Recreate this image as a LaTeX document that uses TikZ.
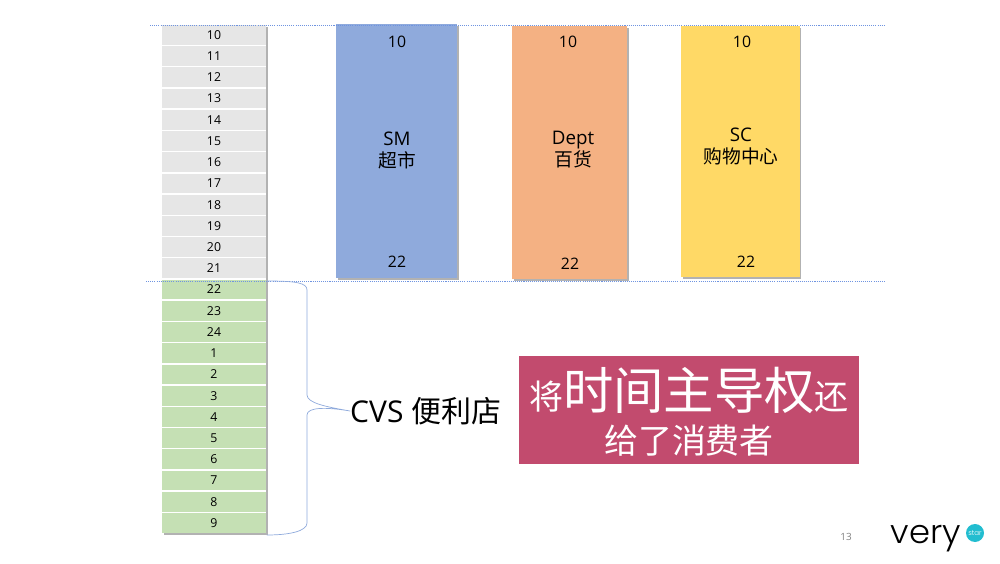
\documentclass[tikz,border=0pt]{standalone}
\usepackage{xcolor}
\usepackage{fontspec}
\setmainfont{Open Sans}
\newfontfamily\cjk{Noto Sans CJK SC}
\newfontfamily\logofont[UprightFont=* Light]{Poppins}
\usetikzlibrary{shadows}
\definecolor{guideblue}{HTML}{6F94E0}
\definecolor{braceblue}{HTML}{8FAADC}
\definecolor{cellgrey}{HTML}{E6E6E6}
\definecolor{cellgreen}{HTML}{C5E0B4}
\definecolor{barblue}{HTML}{8FAADC}
\definecolor{barorange}{HTML}{F4B183}
\definecolor{baryellow}{HTML}{FFD966}
\definecolor{boxpink}{HTML}{C24B6E}
\definecolor{logoteal}{HTML}{22BDD0}
\tikzset{
	softshadow/.style={drop shadow={shadow xshift=1.6pt,shadow yshift=-1.6pt,opacity=0.5,fill=black!60}},
	hourcell/.style={minimum width=3.12cm,minimum height=0.594cm,inner sep=0pt,font=\fontsize{10.5}{12}\selectfont,text height=7.5pt,text depth=0pt},
	greycell/.style={hourcell,fill=cellgrey},
	greencell/.style={hourcell,fill=cellgreen},
	bar/.style={inner sep=0pt,softshadow},
	barhour/.style={inner sep=0pt,font=\fontsize{13.5}{16}\selectfont},
	barname/.style={inner sep=0pt,align=center,font=\fontsize{16}{19}\selectfont},
	guide/.style={guideblue,line width=0.8pt,line cap=butt,dash pattern=on 0.9pt off 0.9pt},
	brace/.style={braceblue,line width=0.6pt}
}
\begin{document}
\begin{tikzpicture}[line cap=round,line join=round,x=1.0cm,y=1.0cm]
	\useasboundingbox (0,0) rectangle (30,16.89);
	% hour column
	\node [softshadow,fill=white,minimum width=3.12cm,minimum height=15.236cm,inner sep=0pt] (column) at (6.42,8.522) {};
	\node [greycell] (h10) at (6.42,15.843) {10};
	\node [greycell] (h11) at (6.42,15.206) {11};
	\node [greycell] (h12) at (6.42,14.570) {12};
	\node [greycell] (h13) at (6.42,13.933) {13};
	\node [greycell] (h14) at (6.42,13.297) {14};
	\node [greycell] (h15) at (6.42,12.660) {15};
	\node [greycell] (h16) at (6.42,12.023) {16};
	\node [greycell] (h17) at (6.42,11.387) {17};
	\node [greycell] (h18) at (6.42,10.750) {18};
	\node [greycell] (h19) at (6.42,10.114) {19};
	\node [greycell] (h20) at (6.42,9.477) {20};
	\node [greycell] (h21) at (6.42,8.840) {21};
	\node [greencell] (h22) at (6.42,8.204) {22};
	\node [greencell] (h23) at (6.42,7.567) {23};
	\node [greencell] (h24) at (6.42,6.931) {24};
	\node [greencell] (h1) at (6.42,6.294) {1};
	\node [greencell] (h2) at (6.42,5.657) {2};
	\node [greencell] (h3) at (6.42,5.021) {3};
	\node [greencell] (h4) at (6.42,4.384) {4};
	\node [greencell] (h5) at (6.42,3.748) {5};
	\node [greencell] (h6) at (6.42,3.111) {6};
	\node [greencell] (h7) at (6.42,2.474) {7};
	\node [greencell] (h8) at (6.42,1.838) {8};
	\node [greencell] (h9) at (6.42,1.201) {9};
	% formats
	\node [bar,fill=barblue,minimum width=3.63cm,minimum height=7.62cm] (sm) at (11.895,12.36) {};
	\node [barhour] (smopen) at (11.91,15.64) {10};
	\node [barhour] (smclose) at (11.91,9.03) {22};
	\node [barname] (smname) at (11.91,12.38) {SM\\{\cjk\fontsize{16}{19}\selectfont 超市}};
	\node [bar,fill=barorange,minimum width=3.46cm,minimum height=7.59cm] (dept) at (17.08,12.315) {};
	\node [barhour] (deptopen) at (17.04,15.64) {10};
	\node [barhour] (deptclose) at (17.10,8.98) {22};
	\node [barname] (deptname) at (17.19,12.41) {Dept\\{\cjk\fontsize{16}{19}\selectfont 百货}};
	\node [bar,fill=baryellow,minimum width=3.555cm,minimum height=7.53cm] (sc) at (22.21,12.345) {};
	\node [barhour] (scopen) at (22.26,15.64) {10};
	\node [barhour] (scclose) at (22.38,9.03) {22};
	\node [barname] (scname) at (22.23,12.5) {SC\\{\cjk\fontsize{16}{19}\selectfont 购物中心}};
	% guides
	\coordinate (topleft) at (4.5,16.125);
	\coordinate (topright) at (26.55,16.125);
	\coordinate (midleft) at (4.38,8.445);
	\coordinate (midright) at (26.55,8.445);
	\draw [guide] (topleft)-- (topright);
	\draw [guide] (midleft)-- (midright);
	% brace
	\node [anchor=west,inner sep=0pt,font=\fontsize{25.6}{30}\selectfont] (cvs) at (10.5,4.56) {CVS {\cjk 便利店}};
	\coordinate (bracetop) at (8.01,8.46);
	\coordinate (bracebottom) at (8.01,0.84);
	\draw [brace] (bracetop) .. controls (8.9,8.46) and (9.21,8.4) .. (9.21,8.19)-- (9.21,5.04) .. controls (9.21,4.8) and (9.8,4.68) .. (cvs.west) .. controls (9.8,4.68) and (9.21,4.68) .. (9.21,4.44)-- (9.21,1.2) .. controls (9.21,0.96) and (8.7,0.84) .. (bracebottom);
	% slogan
	\node [fill=boxpink,minimum width=10.2cm,minimum height=3.24cm,inner sep=0pt] (slogan) at (20.67,4.59) {};
	\node [inner sep=0pt,text=white,font=\cjk\fontsize{29}{34}\selectfont] (sloganone) at (20.67,5.19) {将{\fontsize{43}{50}\selectfont 时间主导权}还};
	\node [inner sep=0pt,text=white,font=\cjk\fontsize{29}{34}\selectfont] (slogantwo) at (20.67,3.66) {给了消费者};
	% page number and logo
	\node [inner sep=0pt,text=black!50,font=\fontsize{8.5}{10}\selectfont] (page) at (25.38,0.78) {13};
	\node [anchor=base,xscale=1.03,inner sep=0pt,font=\logofont\fontsize{28}{32}\selectfont] (very) at (27.78,0.6) {very};
	\node [circle,fill=logoteal,minimum size=0.54cm,inner sep=0pt,text=white,font=\logofont\fontsize{6}{7}\selectfont] (star) at (29.25,0.9) {star};
\end{tikzpicture}
\end{document}
